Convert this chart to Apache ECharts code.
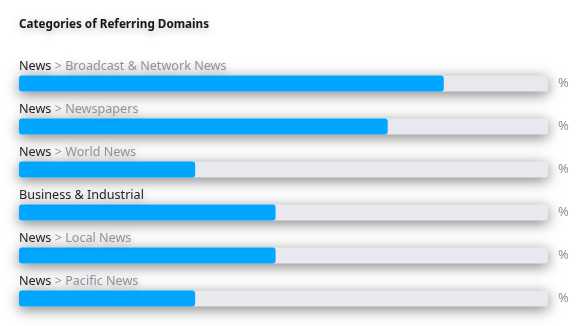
<!DOCTYPE html>
<html>
<head>
<meta charset="utf-8">
<script src="https://cdn.jsdelivr.net/npm/echarts@6/dist/echarts.min.js"></script>
<style>
  html, body { margin: 0; padding: 0; background: #fff; }
  #chart { width: 588px; height: 326px; }
</style>
</head>
<body>
<div id="chart"></div>
<script>
// Referring-domain categories: parent group, optional subcategory, share (%)
const parents = ['News', 'News', 'News', 'Business & Industrial', 'News', 'News'];
const subcats = ['Broadcast & Network News', 'Newspapers', 'World News', '', 'Local News', 'Pacific News'];
const shares = [80.3, 69.7, 33.3, 48.5, 48.5, 33.3];

const categories = parents.map((p, i) => subcats[i] ? p + ' > ' + subcats[i] : p);

const chart = echarts.init(document.getElementById('chart'));

const shadow = { textShadowColor: 'rgba(0,0,0,0.3)', textShadowBlur: 8, textShadowOffsetY: 2 };

chart.setOption({
  animation: false,
  backgroundColor: '#ffffff',
  title: {
    text: 'Categories of Referring Domains',
    left: 19,
    top: 19,
    padding: 0,
    textStyle: Object.assign({
      fontFamily: 'Noto Sans',
      fontSize: 11.7,
      fontWeight: 'bold',
      color: '#16161c'
    }, shadow)
  },
  grid: { left: 19, right: 40, top: 62, bottom: 6 },
  xAxis: {
    type: 'value', min: 0, max: 100, show: false
  },
  yAxis: {
    type: 'category',
    data: categories,
    inverse: true,
    position: 'right',
    axisLine: { show: false },
    axisTick: { show: false },
    splitLine: { show: false },
    axisLabel: {
      formatter: () => '%',
      margin: 10,
      fontFamily: 'Noto Sans',
      fontSize: 13,
      color: '#8e929c',
      padding: [3, 0, 0, 0]
    }
  },
  series: [{
    type: 'bar',
    data: shares,
    barWidth: 16,
    showBackground: true,
    backgroundStyle: {
      color: '#e8e9ee',
      borderRadius: 3,
      shadowColor: 'rgba(0,0,0,0.5)',
      shadowBlur: 14,
      shadowOffsetY: 3
    },
    itemStyle: { color: '#00a6ff', borderRadius: 3 },
    label: {
      show: true,
      position: [0, -3],
      align: 'left',
      verticalAlign: 'bottom',
      formatter: (p) => {
        const i = p.dataIndex;
        return subcats[i]
          ? '{a|' + parents[i] + '} {b|> ' + subcats[i] + '}'
          : '{a|' + parents[i] + '}';
      },
      rich: {
        a: Object.assign({ fontFamily: 'Noto Sans', fontSize: 12.6, color: '#222228' }, shadow),
        b: Object.assign({ fontFamily: 'Noto Sans', fontSize: 12.6, color: '#8e929c' }, shadow)
      }
    }
  }]
});
</script>
</body>
</html>
